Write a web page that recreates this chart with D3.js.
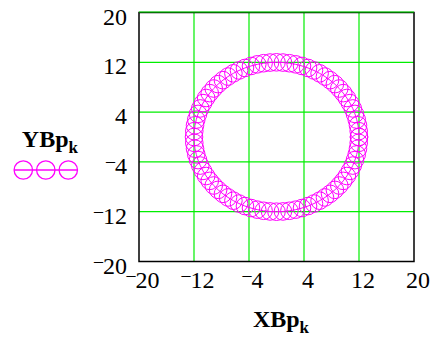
<!DOCTYPE html>
<html>
<head>
<meta charset="utf-8">
<script src="https://cdn.jsdelivr.net/npm/d3@7/dist/d3.min.js"></script>
<style>
  html, body { margin: 0; padding: 0; background: #fff; }
  svg { display: block; }
</style>
</head>
<body>
<svg id="chart" width="433" height="339"></svg>
<script>
// Trace points XBp_k, YBp_k (k = 0..80)
const XBp = [
  12, 11.96, 11.85, 11.67, 11.41, 11.09, 10.69, 10.23, 9.71, 9.13, 8.49, 7.79, 7.05, 6.27, 5.45, 4.59, 3.71, 2.80, 1.88, 0.94, 0,
  -0.94, -1.88, -2.80, -3.71, -4.59, -5.45, -6.27, -7.05, -7.79, -8.49, -9.13, -9.71, -10.23, -10.69, -11.09, -11.41, -11.67, -11.85, -11.96, -12,
  -11.96, -11.85, -11.67, -11.41, -11.09, -10.69, -10.23, -9.71, -9.13, -8.49, -7.79, -7.05, -6.27, -5.45, -4.59, -3.71, -2.80, -1.88, -0.94, 0,
  0.94, 1.88, 2.80, 3.71, 4.59, 5.45, 6.27, 7.05, 7.79, 8.49, 9.13, 9.71, 10.23, 10.69, 11.09, 11.41, 11.67, 11.85, 11.96, 12
];
const YBp = [
  0, 0.94, 1.88, 2.80, 3.71, 4.59, 5.45, 6.27, 7.05, 7.79, 8.49, 9.13, 9.71, 10.23, 10.69, 11.09, 11.41, 11.67, 11.85, 11.96, 12,
  11.96, 11.85, 11.67, 11.41, 11.09, 10.69, 10.23, 9.71, 9.13, 8.49, 7.79, 7.05, 6.27, 5.45, 4.59, 3.71, 2.80, 1.88, 0.94, 0,
  -0.94, -1.88, -2.80, -3.71, -4.59, -5.45, -6.27, -7.05, -7.79, -8.49, -9.13, -9.71, -10.23, -10.69, -11.09, -11.41, -11.67, -11.85, -11.96, -12,
  -11.96, -11.85, -11.67, -11.41, -11.09, -10.69, -10.23, -9.71, -9.13, -8.49, -7.79, -7.05, -6.27, -5.45, -4.59, -3.71, -2.80, -1.88, -0.94, 0
];
const xTicks = [-20, -12, -4, 4, 12, 20];
const yTicks = [-20, -12, -4, 4, 12, 20];
const xDomain = [-20, 20];
const yDomain = [-20, 20];

const svg = d3.select("#chart");
const plot = { left: 139, right: 414, top: 12.5, bottom: 261.5 };
const x = d3.scaleLinear().domain(xDomain).range([plot.left, plot.right]);
const y = d3.scaleLinear().domain(yDomain).range([plot.bottom, plot.top]);

const GRID = "#00ee00";
const TRACE = "#ff00ff";
const SERIF = "'Liberation Serif', 'Times New Roman', serif";

// grid
const grid = svg.append("g");
grid.selectAll("line.vx").data(xTicks.slice(1, -1)).enter().append("line")
  .attr("x1", d => x(d)).attr("x2", d => x(d))
  .attr("y1", plot.top).attr("y2", plot.bottom)
  .attr("stroke", GRID).attr("stroke-width", 1.2);
grid.selectAll("line.hy").data(yTicks.slice(1, -1)).enter().append("line")
  .attr("x1", plot.left).attr("x2", plot.right)
  .attr("y1", d => y(d)).attr("y2", d => y(d))
  .attr("stroke", GRID).attr("stroke-width", 1.2);

// frame
svg.append("rect")
  .attr("x", plot.left).attr("y", plot.top)
  .attr("width", plot.right - plot.left).attr("height", plot.bottom - plot.top)
  .attr("fill", "none").attr("stroke", "#000").attr("stroke-width", 1.5);
svg.append("line")
  .attr("x1", plot.left).attr("x2", plot.right)
  .attr("y1", plot.top - 0.5).attr("y2", plot.top - 0.5)
  .attr("stroke", GRID).attr("stroke-width", 1);

// trace: connecting line + circle markers
const pts = XBp.map((v, i) => [v, YBp[i]]);
const R = 8.8;
const trace = svg.append("g");
trace.append("path")
  .attr("d", d3.line().x(d => x(d[0])).y(d => y(d[1]))(pts))
  .attr("fill", "none").attr("stroke", TRACE).attr("stroke-width", 1);
trace.selectAll("circle").data(pts).enter().append("circle")
  .attr("cx", d => x(d[0])).attr("cy", d => y(d[1])).attr("r", R)
  .attr("fill", "none").attr("stroke", TRACE).attr("stroke-width", 1);

// tick labels with a raised minus sign
function tickLabel(g, v) {
  if (v < 0) {
    g.append("tspan").attr("font-size", 18).attr("dy", -7).text("\u2013");
    g.append("tspan").attr("dy", 7).text(String(-v));
  } else {
    g.append("tspan").text(String(v));
  }
}
svg.append("g").selectAll("text").data(yTicks).enter().append("text")
  .attr("x", 127).attr("y", d => y(d) + 12)
  .attr("text-anchor", "end")
  .attr("font-family", SERIF).attr("font-size", 24).attr("fill", "#000")
  .each(function (d) { tickLabel(d3.select(this), d); });
svg.append("g").selectAll("text").data(xTicks).enter().append("text")
  .attr("x", d => x(d) + 4).attr("y", 288)
  .attr("text-anchor", "middle")
  .attr("font-family", SERIF).attr("font-size", 24).attr("fill", "#000")
  .each(function (d) { tickLabel(d3.select(this), d); });

// axis titles
function title(xp, yp, anchor) {
  const t = svg.append("text").attr("x", xp).attr("y", yp)
    .attr("text-anchor", anchor)
    .attr("font-family", SERIF).attr("font-weight", "bold")
    .attr("font-size", 24).attr("fill", "#000");
  return t;
}
const yt = title(78, 147, "end");
yt.append("tspan").text("YBp");
yt.append("tspan").attr("font-size", 17).attr("dy", 6).text("k");
const xt = title(281, 327, "middle");
xt.append("tspan").text("XBp");
xt.append("tspan").attr("font-size", 17).attr("dy", 6).text("k");

// legend sample
const lg = svg.append("g");
const lx = [23.3, 45.8, 68.3];
lg.append("line").attr("x1", 14).attr("x2", 78).attr("y1", 170).attr("y2", 170)
  .attr("stroke", TRACE).attr("stroke-width", 1.3);
lg.selectAll("circle").data(lx).enter().append("circle")
  .attr("cx", d => d).attr("cy", 170).attr("r", 9.2)
  .attr("fill", "none").attr("stroke", TRACE).attr("stroke-width", 1.3);
</script>
</body>
</html>
